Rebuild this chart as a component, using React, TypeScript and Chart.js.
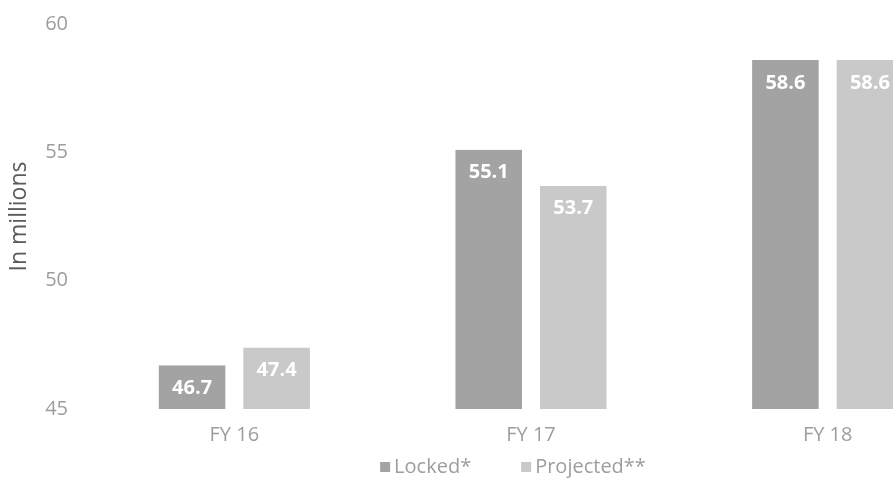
import React, { useEffect, useRef } from "react";
import { Chart, registerables } from "chart.js";

Chart.register(...registerables);

const categories = ["FY 16", "FY 17", "FY 18"];
const lockedValues = [46.7, 55.1, 58.6];
const projectedValues = [47.4, 53.7, 58.6];
const seriesNames = ["Locked*", "Projected**"];
const seriesColors = ["#a3a3a3", "#c9c9c9"];
const yTicks = [45, 50, 55, 60];

const FONT = "'Open Sans', 'DejaVu Sans', sans-serif";
const TEXT_GREY = "#9d9d9d";

const barLabels = {
  id: "barLabels",
  afterDatasetsDraw(chart: any) {
    const ctx = chart.ctx;
    ctx.save();
    ctx.font = `bold 20px ${FONT}`;
    ctx.fillStyle = "#ffffff";
    ctx.textAlign = "center";
    ctx.textBaseline = "middle";
    chart.data.datasets.forEach((ds: any, di: number) => {
      const meta = chart.getDatasetMeta(di);
      meta.data.forEach((bar: any, i: number) => {
        ctx.fillText(String(ds.data[i]), bar.x, bar.y + 23);
      });
    });
    ctx.restore();
  },
};

const bottomLegend = {
  id: "bottomLegend",
  afterDraw(chart: any) {
    const ctx = chart.ctx;
    ctx.save();
    ctx.font = `20px ${FONT}`;
    ctx.textBaseline = "middle";
    const box = 10;
    const textGap = 4;
    const itemGap = 50;
    const items = chart.data.datasets.map((ds: any) => ({
      label: ds.label,
      color: ds.backgroundColor,
      w: box + textGap + ctx.measureText(ds.label).width,
    }));
    const total = items.reduce((s: number, it: any) => s + it.w, 0) + itemGap * (items.length - 1);
    let x = chart.width / 2 - total / 2;
    const y = 467;
    items.forEach((it: any) => {
      ctx.fillStyle = it.color;
      ctx.fillRect(x, y - box / 2, box, box);
      ctx.fillStyle = TEXT_GREY;
      ctx.textAlign = "left";
      ctx.fillText(it.label, x + box + textGap, y);
      x += it.w + itemGap;
    });
    ctx.restore();
  },
};

export default function App() {
  const ref = useRef<HTMLCanvasElement | null>(null);
  useEffect(() => {
    if (!ref.current) return;
    const makeDs = (i: number, data: number[]) => ({
      label: seriesNames[i],
      data,
      backgroundColor: seriesColors[i],
      borderColor: "rgba(0,0,0,0)",
      borderWidth: { left: 9, right: 9, top: 0, bottom: 0 },
      borderSkipped: false,
      categoryPercentage: 0.57,
      barPercentage: 1,
    });
    const chart = new Chart(ref.current, {
      type: "bar",
      data: {
        labels: categories,
        datasets: [makeDs(0, lockedValues), makeDs(1, projectedValues)] as any,
      },
      options: {
        animation: false,
        responsive: true,
        maintainAspectRatio: false,
        layout: { padding: { left: 0, right: 50, top: 24, bottom: 32 } },
        scales: {
          x: {
            grid: { display: false },
            border: { display: false },
            ticks: { color: TEXT_GREY, font: { family: FONT, size: 20 }, padding: 6 },
          },
          y: {
            min: 45,
            max: 60,
            afterBuildTicks: (axis: any) => {
              axis.ticks = yTicks.map((v) => ({ value: v }));
            },
            afterFit: (axis: any) => {
              axis.width = 86;
            },
            grid: {
              display: true,
              drawOnChartArea: false,
              drawTicks: true,
              tickLength: 17,
              color: "rgba(0,0,0,0)",
            },
            border: { display: false },
            ticks: { color: TEXT_GREY, font: { family: FONT, size: 20 }, padding: 1 },
            title: {
              display: true,
              text: "In millions",
              color: "#5a5a5a",
              font: { family: FONT, size: 23 },
              padding: { top: 6, bottom: 0 },
            },
          },
        },
        plugins: {
          legend: { display: false },
          tooltip: { enabled: false },
        },
      },
      plugins: [barLabels, bottomLegend],
    });
    return () => chart.destroy();
  }, []);

  return (
    <div style={{ position: "fixed", left: 0, top: 0, width: 893, height: 485, overflow: "hidden", background: "#fff" }}>
      <div style={{ position: "absolute", left: 0, top: 0, width: 1026, height: 485 }}>
        <canvas ref={ref} />
      </div>
    </div>
  );
}
